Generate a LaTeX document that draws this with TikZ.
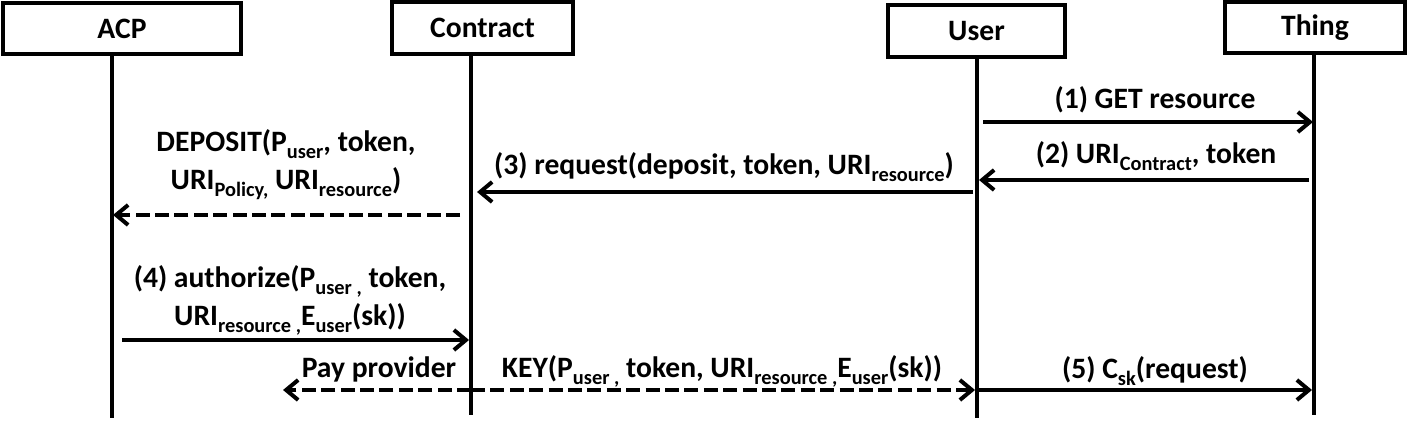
\documentclass[tikz,border=0pt]{standalone}
\usepackage{fontspec}
\setmainfont{Carlito}
\usetikzlibrary{arrows.meta}
\newcommand\sbx[1]{\raisebox{-3.5pt}{\fontsize{10.2}{10}\selectfont #1}}
\begin{document}
\begin{tikzpicture}[x=0.5pt,y=-0.5pt,
  font=\fontsize{14.8}{19}\selectfont\bfseries,
  actor/.style={draw,line width=2pt,inner sep=0pt,minimum height=25.5pt},
  life/.style={line width=1.8pt},
  msg/.style={line width=2pt,-{Straight Barb[length=6pt,width=10pt]}},
  ret/.style={msg,dash pattern=on 7pt off 2.7pt},
  lbl/.style={anchor=base,align=center,inner sep=0pt}]
\useasboundingbox (0,0) rectangle (1407,421);
% actors
\node[actor,minimum width=119pt] (acp) at (122,28.5) {ACP};
\node[actor,minimum width=90.5pt,minimum height=26pt] (con) at (482.5,28) {Contract};
\node[actor,minimum width=88.5pt,minimum height=26pt] (usr) at (976.5,31) {User};
\node[actor,minimum width=90pt] (thg) at (1315,27.5) {Thing};
% lifelines
\coordinate (acpT) at (112,54);  \coordinate (acpB) at (112,418);
\coordinate (conT) at (471,54);  \coordinate (conB) at (471,415);
\coordinate (usrT) at (977,57);  \coordinate (usrB) at (977,418);
\coordinate (thgT) at (1314,53); \coordinate (thgB) at (1314,415);
\draw[life] (acpT) -- (acpB);
\draw[life] (conT) -- (conB);
\draw[life] (usrT) -- (usrB);
\draw[life] (thgT) -- (thgB);
% (1)
\coordinate (m1a) at (983,122); \coordinate (m1b) at (1313,122);
\draw[msg] (m1a) -- (m1b);
\node[lbl] (l1) at (1155,109) {(1) GET resource};
% (2)
\coordinate (m2a) at (1309,180); \coordinate (m2b) at (979,180);
\draw[msg] (m2a) -- (m2b);
\node[lbl] (l2) at (1156,164) {(2) URI\sbx{Contract}, token};
% (3)
\coordinate (m3a) at (973,192); \coordinate (m3b) at (477,192);
\draw[msg] (m3a) -- (m3b);
\node[lbl] (l3) at (724,175) {(3) request(deposit, token, URI\sbx{resource})};
% DEPOSIT
\coordinate (mda) at (460,215); \coordinate (mdb) at (113,215);
\draw[ret] (mda) -- (mdb);
\node[lbl] (ld) at (286,190) {DEPOSIT(P\sbx{user}, token,\\URI\sbx{Policy,} URI\sbx{resource})};
% (4)
\coordinate (m4a) at (122,340); \coordinate (m4b) at (469,340);
\draw[msg] (m4a) -- (m4b);
\node[lbl] (l4) at (290,326) {(4) authorize(P\sbx{user ,} token,\\URI\sbx{resource ,}E\sbx{user}(sk))};
% Pay provider
\coordinate (mpa) at (471,390); \coordinate (mpb) at (283,390);
\draw[ret] (mpa) -- (mpb);
\node[lbl] (lp) at (379,378) {Pay provider};
% KEY
\coordinate (mka) at (471,390); \coordinate (mkb) at (975,390);
\draw[ret] (mka) -- (mkb);
\node[lbl] (lk) at (722,378) {KEY(P\sbx{user ,} token, URI\sbx{resource ,}E\sbx{user}(sk))};
% (5)
\coordinate (m5a) at (978,390); \coordinate (m5b) at (1312,390);
\draw[msg] (m5a) -- (m5b);
\node[lbl] (l5) at (1155,379) {(5) C\sbx{sk}(request)};
\end{tikzpicture}
\end{document}
